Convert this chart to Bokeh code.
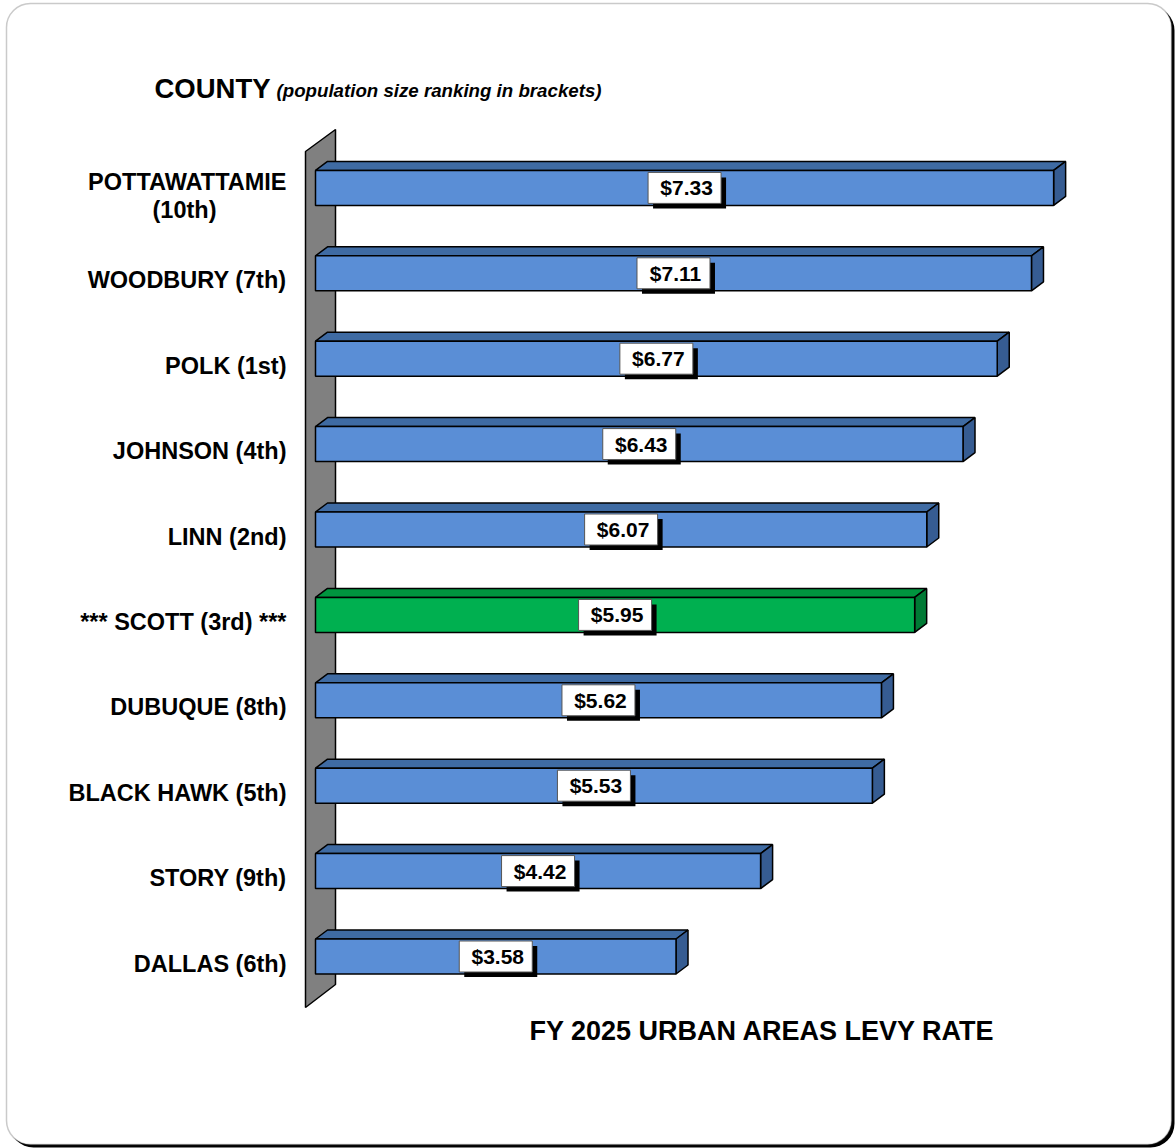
from bokeh.plotting import figure
from bokeh.models import Range1d, ColumnDataSource, BoxAnnotation
from bokeh.core.properties import value
from bokeh.embed import file_html
from bokeh.resources import INLINE

# ---- data ----
counties = ["POTTAWATTAMIE\n(10th)", "WOODBURY (7th)", "POLK (1st)", "JOHNSON (4th)",
            "LINN (2nd)", "*** SCOTT (3rd) ***", "DUBUQUE (8th)", "BLACK HAWK (5th)",
            "STORY (9th)", "DALLAS (6th)"]
rates = [7.33, 7.11, 6.77, 6.43, 6.07, 5.95, 5.62, 5.53, 4.42, 3.58]
highlight = "*** SCOTT (3rd) ***"
axis_title = "FY 2025 URBAN AREAS LEVY RATE"
heading = "COUNTY"
subheading = "(population size ranking in brackets)"

# ---- layout constants (pixels per data unit) ----
W, H = 1176, 1148
PX_X = 100.7      # px per dollar
PX_Y = 85.4       # px per category step
X0_PX = 315       # pixel of $0
Y0_PX = 956       # pixel (from top) of lowest category centre

def dx(px):  # screen x -> data
    return (px - X0_PX) / PX_X

def dy(py):  # screen y (from top) -> data
    return (Y0_PX - py) / PX_Y

p = figure(width=W, height=H, output_backend="svg", toolbar_location=None,
           x_range=Range1d(dx(0), dx(W)), y_range=Range1d(dy(H), dy(0)),
           x_axis_type=None, y_axis_type=None, min_border=0)
p.outline_line_color = None
p.background_fill_color = "white"
p.border_fill_color = "white"

# rounded frame with shadow
p.add_layout(BoxAnnotation(left=dx(9), right=dx(1174), top=dy(6), bottom=dy(1147),
                           fill_color="black", fill_alpha=1, line_color=None,
                           border_radius=24, level="underlay"))
p.add_layout(BoxAnnotation(left=dx(6), right=dx(1171), top=dy(3), bottom=dy(1144),
                           fill_color="white", fill_alpha=1, line_color="#505050",
                           line_width=1.5, border_radius=24, level="underlay"))

n = len(counties)
ys = [n - 1 - i for i in range(n)]
bar_h = 35 / PX_Y
ddx = 12 / PX_X
ddy = 9 / PX_Y

# wall
wall_x = [dx(305), dx(335), dx(335), dx(305)]
wall_y = [dy(151), dy(129), dy(984), dy(1007)]
p.patch(wall_x, wall_y, fill_color="#808080", line_color="black", line_width=1.5)

front = ["#00B050" if c == highlight else "#5A8ED6" for c in counties]
topc = ["#00953F" if c == highlight else "#3F6BA3" for c in counties]
sidec = ["#007A35" if c == highlight else "#365C92" for c in counties]

top_xs, top_ys, side_xs, side_ys = [], [], [], []
for r, y in zip(rates, ys):
    t = y + bar_h / 2
    b = y - bar_h / 2
    top_xs.append([0, ddx, r + ddx, r])
    top_ys.append([t, t + ddy, t + ddy, t])
    side_xs.append([r, r + ddx, r + ddx, r])
    side_ys.append([t, t + ddy, b + ddy, b])

p.patches(top_xs, top_ys, fill_color=topc, line_color="black", line_width=1.5)
p.patches(side_xs, side_ys, fill_color=sidec, line_color="black", line_width=1.5)

src = ColumnDataSource(dict(
    y=ys, rate=rates, county=counties, front=front,
    top=[y + bar_h / 2 for y in ys], bottom=[y - bar_h / 2 for y in ys],
    mid=[r / 2 for r in rates],
    lbl=["$%.2f" % r for r in rates],
))
p.quad(left=0, right="rate", top="top", bottom="bottom", fill_color="front",
       line_color="black", line_width=1.5, source=src)

# value labels with shadow
shadow = ColumnDataSource(dict(x=[r / 2 + 5 / PX_X for r in rates], y=[y - 5 / PX_Y for y in ys]))
p.rect(x="x", y="y", width=73, height=31, width_units="screen", height_units="screen",
       fill_color="black", line_color=None, source=shadow)
p.rect(x="mid", y="y", width=73, height=31, width_units="screen", height_units="screen",
       fill_color="white", line_color="#555555", line_width=1, source=src)
p.text(x="mid", y="y", text="lbl", text_align="center", text_baseline="middle",
       text_font=value("Liberation Sans"), text_font_style="bold",
       text_font_size="21px", text_color="black", y_offset=0, x_offset=2, source=src)

# category labels
label_style = dict(text_font=value("Liberation Sans"), text_font_style="bold",
                   text_font_size="23.5px", text_color="black")
single = [(c, y) for c, y in zip(counties, ys) if "\n" not in c]
multi = [(c, y) for c, y in zip(counties, ys) if "\n" in c]
p.text(x=dx(286), y=[y for _, y in single], text=[c for c, _ in single],
       text_align="right", text_baseline="middle", y_offset=7, **label_style)
for c, y in multi:
    first, second = c.split("\n", 1)
    p.text(x=[dx(286)], y=[y], text=[first], text_align="right", text_baseline="middle",
           y_offset=-6, **label_style)
    p.text(x=[dx(184)], y=[y], text=[second], text_align="center", text_baseline="middle",
           y_offset=22, **label_style)

# heading
p.text(x=[dx(154)], y=[dy(88)], text=[heading], text_align="left", text_baseline="middle",
       text_font=value("Liberation Sans"), text_font_style="bold", text_font_size="27.5px",
       text_color="black")
p.text(x=[dx(276)], y=[dy(90)], text=[subheading], text_align="left", text_baseline="middle",
       text_font=value("Liberation Sans"), text_font_style="bold italic", text_font_size="18.7px",
       text_color="black")

# axis title
p.text(x=[dx(762)], y=[dy(1030)], text=[axis_title], text_align="center", text_baseline="middle",
       text_font=value("Liberation Sans"), text_font_style="bold", text_font_size="27px",
       text_color="black")

open("out.html", "w").write(file_html(p, INLINE))
